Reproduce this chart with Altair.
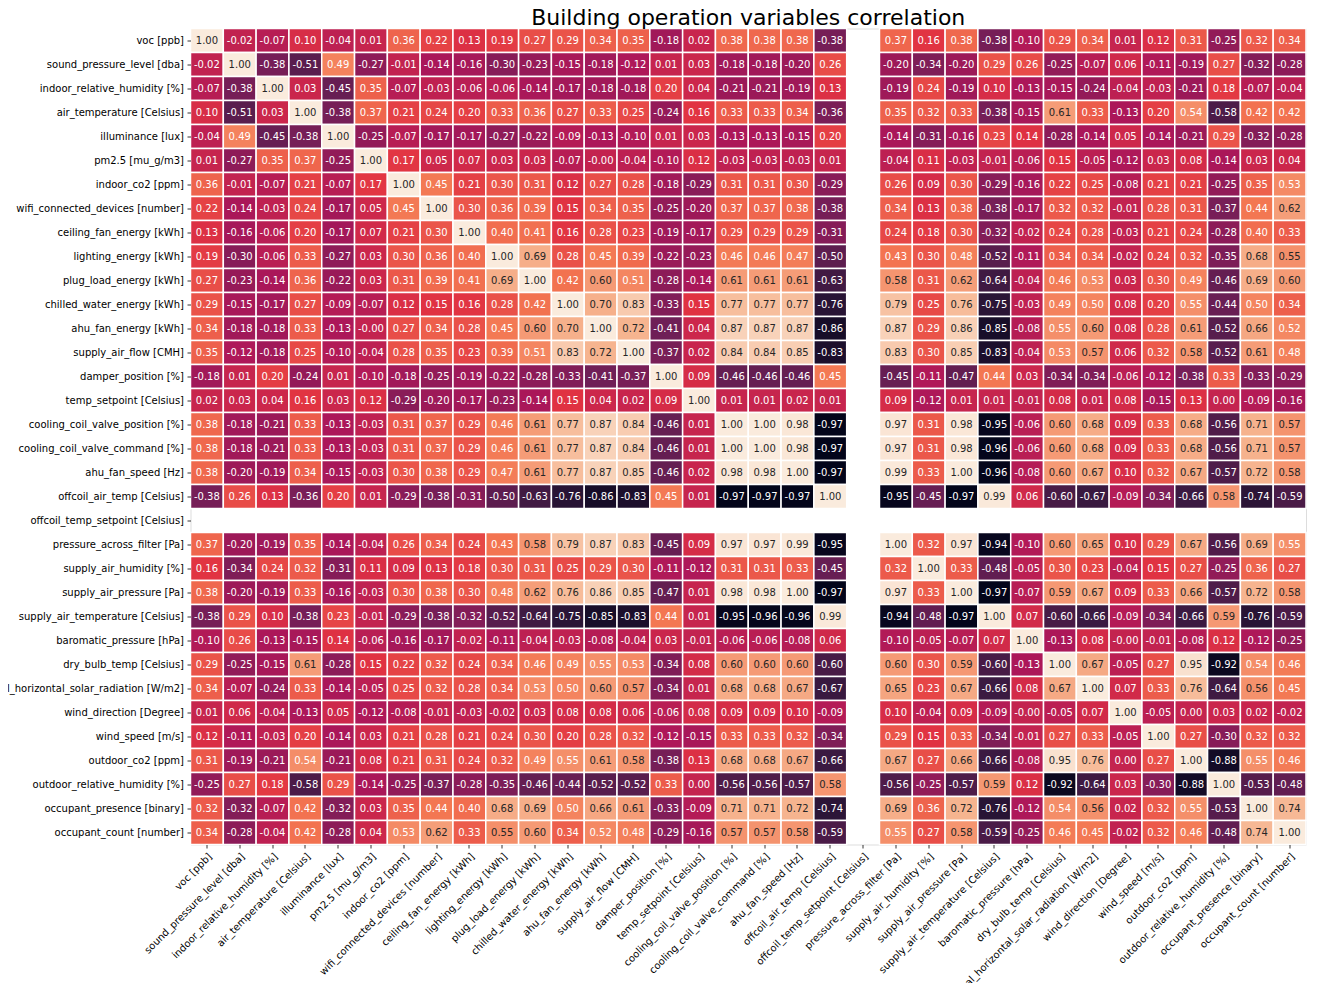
import altair as alt
import pandas as pd

variables = [
    "voc [ppb]", "sound_pressure_level [dba]", "indoor_relative_humidity [%]",
    "air_temperature [Celsius]", "illuminance [lux]", "pm2.5 [mu_g/m3]",
    "indoor_co2 [ppm]", "wifi_connected_devices [number]", "ceiling_fan_energy [kWh]",
    "lighting_energy [kWh]", "plug_load_energy [kWh]", "chilled_water_energy [kWh]",
    "ahu_fan_energy [kWh]", "supply_air_flow [CMH]", "damper_position [%]",
    "temp_setpoint [Celsius]", "cooling_coil_valve_position [%]",
    "cooling_coil_valve_command [%]", "ahu_fan_speed [Hz]", "offcoil_air_temp [Celsius]",
    "offcoil_temp_setpoint [Celsius]", "pressure_across_filter [Pa]",
    "supply_air_humidity [%]", "supply_air_pressure [Pa]",
    "supply_air_temperature [Celsius]", "baromatic_pressure [hPa]",
    "dry_bulb_temp [Celsius]", "global_horizontal_solar_radiation [W/m2]",
    "wind_direction [Degree]", "wind_speed [m/s]", "outdoor_co2 [ppm]",
    "outdoor_relative_humidity [%]", "occupant_presence [binary]",
    "occupant_count [number]",
]

N = None
row01 = [1.00, -0.02, -0.07, 0.10, -0.04, 0.01, 0.36, 0.22, 0.13, 0.19, 0.27, 0.29, 0.34, 0.35, -0.18, 0.02, 0.38, 0.38, 0.38, -0.38, N, 0.37, 0.16, 0.38, -0.38, -0.10, 0.29, 0.34, 0.01, 0.12, 0.31, -0.25, 0.32, 0.34]
row02 = [-0.02, 1.00, -0.38, -0.51, 0.49, -0.27, -0.01, -0.14, -0.16, -0.30, -0.23, -0.15, -0.18, -0.12, 0.01, 0.03, -0.18, -0.18, -0.20, 0.26, N, -0.20, -0.34, -0.20, 0.29, 0.26, -0.25, -0.07, 0.06, -0.11, -0.19, 0.27, -0.32, -0.28]
row03 = [-0.07, -0.38, 1.00, 0.03, -0.45, 0.35, -0.07, -0.03, -0.06, -0.06, -0.14, -0.17, -0.18, -0.18, 0.20, 0.04, -0.21, -0.21, -0.19, 0.13, N, -0.19, 0.24, -0.19, 0.10, -0.13, -0.15, -0.24, -0.04, -0.03, -0.21, 0.18, -0.07, -0.04]
row04 = [0.10, -0.51, 0.03, 1.00, -0.38, 0.37, 0.21, 0.24, 0.20, 0.33, 0.36, 0.27, 0.33, 0.25, -0.24, 0.16, 0.33, 0.33, 0.34, -0.36, N, 0.35, 0.32, 0.33, -0.38, -0.15, 0.61, 0.33, -0.13, 0.20, 0.54, -0.58, 0.42, 0.42]
row05 = [-0.04, 0.49, -0.45, -0.38, 1.00, -0.25, -0.07, -0.17, -0.17, -0.27, -0.22, -0.09, -0.13, -0.10, 0.01, 0.03, -0.13, -0.13, -0.15, 0.20, N, -0.14, -0.31, -0.16, 0.23, 0.14, -0.28, -0.14, 0.05, -0.14, -0.21, 0.29, -0.32, -0.28]
row06 = [0.01, -0.27, 0.35, 0.37, -0.25, 1.00, 0.17, 0.05, 0.07, 0.03, 0.03, -0.07, -0.004, -0.04, -0.10, 0.12, -0.03, -0.03, -0.03, 0.01, N, -0.04, 0.11, -0.03, -0.01, -0.06, 0.15, -0.05, -0.12, 0.03, 0.08, -0.14, 0.03, 0.04]
row07 = [0.36, -0.01, -0.07, 0.21, -0.07, 0.17, 1.00, 0.45, 0.21, 0.30, 0.31, 0.12, 0.27, 0.28, -0.18, -0.29, 0.31, 0.31, 0.30, -0.29, N, 0.26, 0.09, 0.30, -0.29, -0.16, 0.22, 0.25, -0.08, 0.21, 0.21, -0.25, 0.35, 0.53]
row08 = [0.22, -0.14, -0.03, 0.24, -0.17, 0.05, 0.45, 1.00, 0.30, 0.36, 0.39, 0.15, 0.34, 0.35, -0.25, -0.20, 0.37, 0.37, 0.38, -0.38, N, 0.34, 0.13, 0.38, -0.38, -0.17, 0.32, 0.32, -0.01, 0.28, 0.31, -0.37, 0.44, 0.62]
row09 = [0.13, -0.16, -0.06, 0.20, -0.17, 0.07, 0.21, 0.30, 1.00, 0.40, 0.41, 0.16, 0.28, 0.23, -0.19, -0.17, 0.29, 0.29, 0.29, -0.31, N, 0.24, 0.18, 0.30, -0.32, -0.02, 0.24, 0.28, -0.03, 0.21, 0.24, -0.28, 0.40, 0.33]
row10 = [0.19, -0.30, -0.06, 0.33, -0.27, 0.03, 0.30, 0.36, 0.40, 1.00, 0.69, 0.28, 0.45, 0.39, -0.22, -0.23, 0.46, 0.46, 0.47, -0.50, N, 0.43, 0.30, 0.48, -0.52, -0.11, 0.34, 0.34, -0.02, 0.24, 0.32, -0.35, 0.68, 0.551]
row11 = [0.27, -0.23, -0.14, 0.36, -0.22, 0.03, 0.31, 0.39, 0.41, 0.69, 1.00, 0.42, 0.60, 0.51, -0.28, -0.14, 0.61, 0.61, 0.61, -0.63, N, 0.58, 0.31, 0.62, -0.64, -0.04, 0.46, 0.53, 0.03, 0.30, 0.49, -0.46, 0.69, 0.60]
row12 = [0.29, -0.15, -0.17, 0.27, -0.09, -0.07, 0.12, 0.15, 0.16, 0.28, 0.42, 1.00, 0.70, 0.83, -0.33, 0.15, 0.77, 0.77, 0.77, -0.76, N, 0.79, 0.25, 0.76, -0.75, -0.03, 0.49, 0.50, 0.08, 0.20, 0.549, -0.44, 0.50, 0.34]
row13 = [0.34, -0.18, -0.18, 0.33, -0.13, -0.004, 0.27, 0.34, 0.28, 0.45, 0.60, 0.70, 1.00, 0.72, -0.41, 0.04, 0.87, 0.87, 0.87, -0.86, N, 0.87, 0.29, 0.86, -0.85, -0.08, 0.549, 0.60, 0.08, 0.28, 0.61, -0.52, 0.66, 0.52]
row14 = [0.35, -0.12, -0.18, 0.25, -0.10, -0.04, 0.28, 0.35, 0.23, 0.39, 0.51, 0.83, 0.72, 1.00, -0.37, 0.02, 0.84, 0.84, 0.85, -0.83, N, 0.83, 0.30, 0.85, -0.83, -0.04, 0.53, 0.57, 0.06, 0.32, 0.58, -0.52, 0.61, 0.48]
row15 = [-0.18, 0.01, 0.20, -0.24, 0.01, -0.10, -0.18, -0.25, -0.19, -0.22, -0.28, -0.33, -0.41, -0.37, 1.00, 0.09, -0.46, -0.46, -0.46, 0.45, N, -0.45, -0.11, -0.47, 0.44, 0.03, -0.34, -0.34, -0.06, -0.12, -0.38, 0.33, -0.33, -0.29]
row16 = [0.02, 0.03, 0.04, 0.16, 0.03, 0.12, -0.29, -0.20, -0.17, -0.23, -0.14, 0.15, 0.04, 0.02, 0.09, 1.00, 0.01, 0.01, 0.02, 0.01, N, 0.09, -0.12, 0.01, 0.01, -0.01, 0.08, 0.01, 0.08, -0.15, 0.13, 0.00, -0.09, -0.16]
row17 = [0.38, -0.18, -0.21, 0.33, -0.13, -0.03, 0.31, 0.37, 0.29, 0.46, 0.61, 0.77, 0.87, 0.84, -0.46, 0.01, 1.00, 1.00, 0.98, -0.97, N, 0.97, 0.31, 0.98, -0.95, -0.06, 0.60, 0.68, 0.09, 0.33, 0.68, -0.56, 0.71, 0.57]
row18 = [0.38, -0.18, -0.21, 0.33, -0.13, -0.03, 0.31, 0.37, 0.29, 0.46, 0.61, 0.77, 0.87, 0.84, -0.46, 0.01, 1.00, 1.00, 0.98, -0.97, N, 0.97, 0.31, 0.98, -0.96, -0.06, 0.60, 0.68, 0.09, 0.33, 0.68, -0.56, 0.71, 0.57]
row19 = [0.38, -0.20, -0.19, 0.34, -0.15, -0.03, 0.30, 0.38, 0.29, 0.47, 0.61, 0.77, 0.87, 0.85, -0.46, 0.02, 0.98, 0.98, 1.00, -0.97, N, 0.99, 0.33, 1.00, -0.96, -0.08, 0.60, 0.67, 0.10, 0.32, 0.67, -0.57, 0.72, 0.58]
row20 = [-0.38, 0.26, 0.13, -0.36, 0.20, 0.01, -0.29, -0.38, -0.31, -0.50, -0.63, -0.76, -0.86, -0.83, 0.45, 0.01, -0.97, -0.97, -0.97, 1.00, N, -0.95, -0.45, -0.97, 0.99, 0.06, -0.60, -0.67, -0.09, -0.34, -0.66, 0.58, -0.74, -0.59]
row21 = [N] * 34
row22 = [0.37, -0.20, -0.19, 0.35, -0.14, -0.04, 0.26, 0.34, 0.24, 0.43, 0.58, 0.79, 0.87, 0.83, -0.45, 0.09, 0.97, 0.97, 0.99, -0.95, N, 1.00, 0.32, 0.97, -0.94, -0.10, 0.60, 0.65, 0.10, 0.29, 0.67, -0.56, 0.69, 0.549]
row23 = [0.16, -0.34, 0.24, 0.32, -0.31, 0.11, 0.09, 0.13, 0.18, 0.30, 0.31, 0.25, 0.29, 0.30, -0.11, -0.12, 0.31, 0.31, 0.33, -0.45, N, 0.32, 1.00, 0.33, -0.48, -0.05, 0.30, 0.23, -0.04, 0.15, 0.27, -0.25, 0.36, 0.27]
row24 = [0.38, -0.20, -0.19, 0.33, -0.16, -0.03, 0.30, 0.38, 0.30, 0.48, 0.62, 0.76, 0.86, 0.85, -0.47, 0.01, 0.98, 0.98, 1.00, -0.97, N, 0.97, 0.33, 1.00, -0.97, -0.07, 0.59, 0.67, 0.09, 0.33, 0.66, -0.57, 0.72, 0.58]
row25 = [-0.38, 0.29, 0.10, -0.38, 0.23, -0.01, -0.29, -0.38, -0.32, -0.52, -0.64, -0.75, -0.85, -0.83, 0.44, 0.01, -0.95, -0.96, -0.96, 0.99, N, -0.94, -0.48, -0.97, 1.00, 0.07, -0.60, -0.66, -0.09, -0.34, -0.66, 0.59, -0.76, -0.59]
row26 = [-0.10, 0.26, -0.13, -0.15, 0.14, -0.06, -0.16, -0.17, -0.02, -0.11, -0.04, -0.03, -0.08, -0.04, 0.03, -0.01, -0.06, -0.06, -0.08, 0.06, N, -0.10, -0.05, -0.07, 0.07, 1.00, -0.13, 0.08, -0.004, -0.01, -0.08, 0.12, -0.12, -0.25]
row27 = [0.29, -0.25, -0.15, 0.61, -0.28, 0.15, 0.22, 0.32, 0.24, 0.34, 0.46, 0.49, 0.549, 0.53, -0.34, 0.08, 0.60, 0.60, 0.60, -0.60, N, 0.60, 0.30, 0.59, -0.60, -0.13, 1.00, 0.67, -0.05, 0.27, 0.95, -0.92, 0.54, 0.46]
row28 = [0.34, -0.07, -0.24, 0.33, -0.14, -0.05, 0.25, 0.32, 0.28, 0.34, 0.53, 0.50, 0.60, 0.57, -0.34, 0.01, 0.68, 0.68, 0.67, -0.67, N, 0.65, 0.23, 0.67, -0.66, 0.08, 0.67, 1.00, 0.07, 0.33, 0.76, -0.64, 0.56, 0.45]
row29 = [0.01, 0.06, -0.04, -0.13, 0.05, -0.12, -0.08, -0.01, -0.03, -0.02, 0.03, 0.08, 0.08, 0.06, -0.06, 0.08, 0.09, 0.09, 0.10, -0.09, N, 0.10, -0.04, 0.09, -0.09, -0.004, -0.05, 0.07, 1.00, -0.05, 0.00, 0.03, 0.02, -0.02]
row30 = [0.12, -0.11, -0.03, 0.20, -0.14, 0.03, 0.21, 0.28, 0.21, 0.24, 0.30, 0.20, 0.28, 0.32, -0.12, -0.15, 0.33, 0.33, 0.32, -0.34, N, 0.29, 0.15, 0.33, -0.34, -0.01, 0.27, 0.33, -0.05, 1.00, 0.27, -0.30, 0.32, 0.32]
row31 = [0.31, -0.19, -0.21, 0.54, -0.21, 0.08, 0.21, 0.31, 0.24, 0.32, 0.49, 0.549, 0.61, 0.58, -0.38, 0.13, 0.68, 0.68, 0.67, -0.66, N, 0.67, 0.27, 0.66, -0.66, -0.08, 0.95, 0.76, 0.00, 0.27, 1.00, -0.88, 0.549, 0.46]
row32 = [-0.25, 0.27, 0.18, -0.58, 0.29, -0.14, -0.25, -0.37, -0.28, -0.35, -0.46, -0.44, -0.52, -0.52, 0.33, 0.00, -0.56, -0.56, -0.57, 0.58, N, -0.56, -0.25, -0.57, 0.59, 0.12, -0.92, -0.64, 0.03, -0.30, -0.88, 1.00, -0.53, -0.48]
row33 = [0.32, -0.32, -0.07, 0.42, -0.32, 0.03, 0.35, 0.44, 0.40, 0.68, 0.69, 0.50, 0.66, 0.61, -0.33, -0.09, 0.71, 0.71, 0.72, -0.74, N, 0.69, 0.36, 0.72, -0.76, -0.12, 0.54, 0.56, 0.02, 0.32, 0.549, -0.53, 1.00, 0.74]
row34 = [0.34, -0.28, -0.04, 0.42, -0.28, 0.04, 0.53, 0.62, 0.33, 0.551, 0.60, 0.34, 0.52, 0.48, -0.29, -0.16, 0.57, 0.57, 0.58, -0.59, N, 0.549, 0.27, 0.58, -0.59, -0.25, 0.46, 0.45, -0.02, 0.32, 0.46, -0.48, 0.74, 1.00]

rows = [row01, row02, row03, row04, row05, row06, row07, row08, row09, row10,
        row11, row12, row13, row14, row15, row16, row17, row18, row19, row20,
        row21, row22, row23, row24, row25, row26, row27, row28, row29, row30,
        row31, row32, row33, row34]

# seaborn "rocket" colormap stops
rocket = ["#03051a", "#35193e", "#701f57", "#ad1759", "#e13342", "#f37651", "#f6b48f", "#faebdd"]
vmin, vmax = -0.97, 1.00

records = []
for i, rname in enumerate(variables):
    for j, cname in enumerate(variables):
        v = rows[i][j]
        if v is None:
            continue
        records.append({"row": rname, "col": cname, "v": v, "label": f"{v:.2f}"})
df = pd.DataFrame(records)

stops = [vmin + k * (vmax - vmin) / (len(rocket) - 1) for k in range(len(rocket))]

x_enc = alt.X("col:N", sort=variables,
              scale=alt.Scale(domain=variables, paddingInner=0, paddingOuter=0),
              axis=alt.Axis(title=None, labelAngle=315, labelAlign="right",
                            labelBaseline="top", labelLimit=1000, labelOverlap=False,
                            domain=False, ticks=True, tickSize=3.5, tickWidth=0.8,
                            tickColor="black", labelPadding=3, labelColor="black",
                            labelFont="DejaVu Sans", labelFontSize=10))
y_enc = alt.Y("row:N", sort=variables,
              scale=alt.Scale(domain=variables, paddingInner=0, paddingOuter=0),
              axis=alt.Axis(title=None, labelLimit=1000, labelOverlap=False,
                            domain=False, ticks=True, tickSize=3.5, tickWidth=0.8,
                            tickColor="black", labelPadding=3.5, labelColor="black",
                            labelFont="DejaVu Sans", labelFontSize=10))

base = alt.Chart(df).encode(x=x_enc, y=y_enc)

rects = base.mark_rect(stroke="white", strokeWidth=1.5).encode(
    color=alt.Color("v:Q", scale=alt.Scale(domain=stops, range=rocket, interpolate="rgb"),
                    legend=None)
)

texts = base.mark_text(font="DejaVu Sans", fontSize=10, align="center", baseline="middle").encode(
    text=alt.Text("label:N"),
    color=alt.condition("datum.v > 0.5495", alt.value("#262626"), alt.value("white")),
)

chart = alt.layer(rects, texts).properties(
    width=1115.5,
    height=816,
    autosize=alt.AutoSizeParams(type="none"),
    padding={"left": 182.5, "top": 20.5, "right": 2, "bottom": 138.5},
    title=alt.TitleParams("Building operation variables correlation", fontSize=22,
                          font="DejaVu Sans", fontWeight="normal", anchor="middle",
                          color="black", offset=-2.5),
).configure_view(stroke=None).configure(background="white")

chart.save("out.html", embed_options={"renderer": "svg", "actions": False})
